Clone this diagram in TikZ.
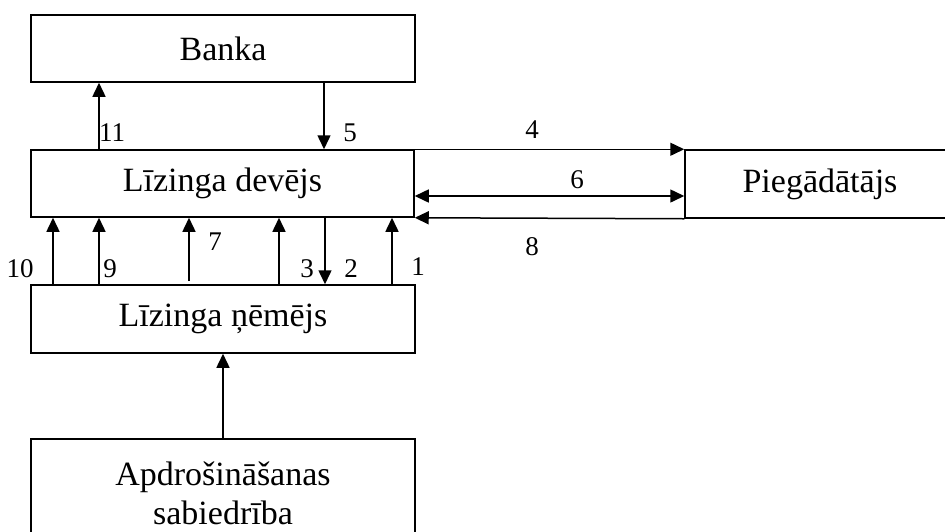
\documentclass[tikz,border=0pt]{standalone}
\usepackage{fontspec}
\setmainfont{Liberation Serif}
\usetikzlibrary{arrows.meta}
\begin{document}
\begin{tikzpicture}[x=1pt,y=-1pt,
  box/.style={draw,line width=1.5pt,rectangle,inner sep=0pt,align=center,
    font=\fontsize{34}{39}\selectfont},
  arr/.style={line width=1.5pt,-{Triangle[length=14pt,width=13pt]}},
  darr/.style={line width=1.5pt,{Triangle[length=14pt,width=13pt]}-{Triangle[length=14pt,width=13pt]}},
  lab/.style={inner sep=0pt,font=\fontsize{27}{30}\selectfont}]
\useasboundingbox (0,0) rectangle (945,531);
\clip (0,0) rectangle (945,531);
\node[box,minimum width=384pt,minimum height=67pt] (bank) at (223,48.5) {Banka};
\node[box,minimum width=383pt,minimum height=67pt] (dev) at (222.5,183.5) {Līzinga devējs};
\node[box,minimum width=384pt,minimum height=68pt] (nem) at (223,319) {Līzinga ņēmējs};
\node[box,minimum width=384pt,minimum height=108pt] (ins) at (223,493) {Apdrošināšanas\\sabiedrība};
\node[box,minimum width=270pt,minimum height=68pt] (pie) at (820,184) {Piegādātājs};
\coordinate (c11) at (99,0);
\coordinate (c5) at (324,0);
\coordinate (c10) at (53,0);
\coordinate (c9) at (99,0);
\coordinate (c7) at (189,0);
\coordinate (c7s) at (189,281);
\coordinate (cx) at (279,0);
\coordinate (c3) at (325,0);
\coordinate (c1) at (392,0);
\coordinate (c6) at (0,196);
\draw[arr] (dev.north -| c11) -- (bank.south -| c11);
\draw[arr] (bank.south -| c5) -- (dev.north -| c5);
\draw[arr] (dev.north east) -- (pie.north west);
\draw[darr] (dev.east |- c6) -- (pie.west |- c6);
\draw[arr] (pie.south west) -- (dev.south east);
\draw[arr] (nem.north -| c10) -- (dev.south -| c10);
\draw[arr] (nem.north -| c9) -- (dev.south -| c9);
\draw[arr] (c7s) -- (dev.south -| c7);
\draw[arr] (nem.north -| cx) -- (dev.south -| cx);
\draw[arr] (dev.south -| c3) -- (nem.north -| c3);
\draw[arr] (nem.north -| c1) -- (dev.south -| c1);
\draw[arr] (ins.north) -- (nem.south);
\node[lab] (l11) at (112,133) {11};
\node[lab] (l5) at (350,133) {5};
\node[lab] (l4) at (532,130) {4};
\node[lab] (l6) at (577,180) {6};
\node[lab] (l8) at (532,247) {8};
\node[lab] (l10) at (20,269) {10};
\node[lab] (l9) at (110,269) {9};
\node[lab] (l7) at (215,242) {7};
\node[lab] (l3) at (307,269) {3};
\node[lab] (l2) at (351,269) {2};
\node[lab] (l1) at (418,267) {1};
\end{tikzpicture}
\end{document}
